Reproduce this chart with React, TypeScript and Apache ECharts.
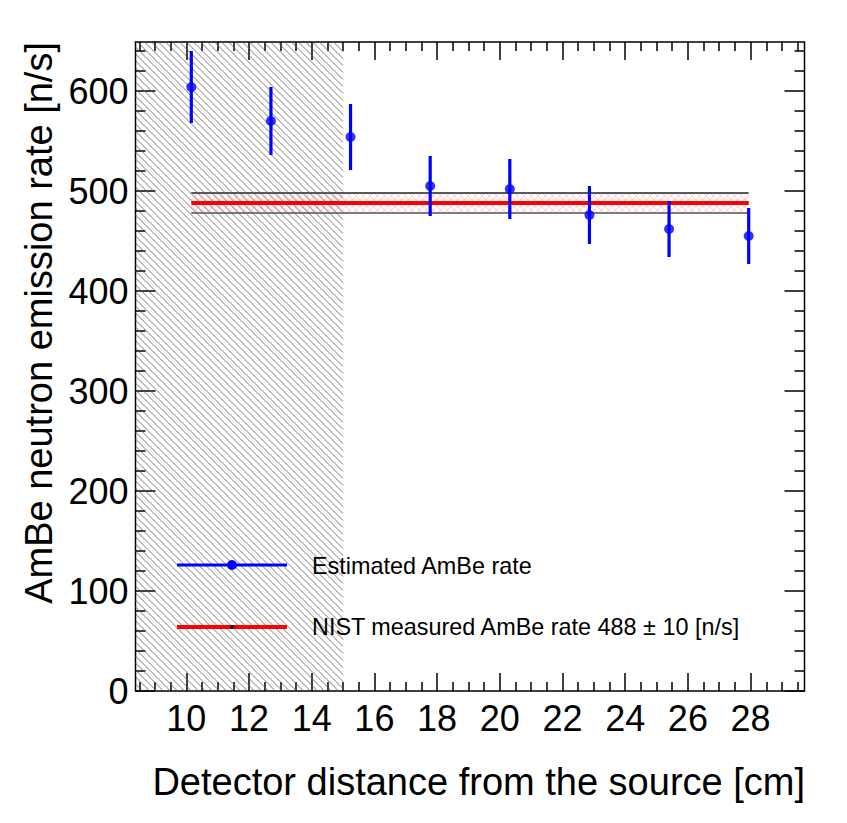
import React, { useEffect, useRef } from "react";
import * as echarts from "echarts";

// ---- data ----
const X_MIN = 8.38;
const X_MAX = 29.72;
const Y_MIN = 0;
const Y_MAX = 649;

const distances = [10.16, 12.7, 15.24, 17.78, 20.32, 22.86, 25.4, 27.94];
const rates = [604, 570, 554, 505, 502, 476, 462, 455];
const rateErrors = [36, 34, 33, 30, 30, 29, 28, 28];

const nistRate = 488;
const nistError = 10;
const nistRange = [10.16, 27.94];

const excludedRange = [X_MIN, 15];

const xMajorTicks = [10, 12, 14, 16, 18, 20, 22, 24, 26, 28];
const xMinorTicks = [
  8.5, 9, 9.5, 10.5, 11, 11.5, 12.5, 13, 13.5, 14.5, 15, 15.5, 16.5, 17, 17.5,
  18.5, 19, 19.5, 20.5, 21, 21.5, 22.5, 23, 23.5, 24.5, 25, 25.5, 26.5, 27,
  27.5, 28.5, 29, 29.5,
];
const yMajorTicks = [0, 100, 200, 300, 400, 500, 600];
const yMinorTicks = [
  20, 40, 60, 80, 120, 140, 160, 180, 220, 240, 260, 280, 320, 340, 360, 380,
  420, 440, 460, 480, 520, 540, 560, 580, 620, 640,
];

const xTitle = "Detector distance from the source [cm]";
const yTitle = "AmBe neutron emission rate [n/s]";
const legendEstimated = "Estimated AmBe rate";
const legendNist = "NIST measured AmBe rate 488 \u00b1 10 [n/s]";

const FONT = '"Liberation Sans", Arial, Helvetica, sans-serif';

// diagonal hatch segments clipped to a rectangle (pixel space)
function hatch(
  x0: number,
  y0: number,
  x1: number,
  y1: number,
  step: number,
  dir: number
) {
  const segs: any[] = [];
  if (dir > 0) {
    // x - y = c  ("\")
    for (let c = x0 - y1; c <= x1 - y0; c += step) {
      const xa = Math.max(x0, c + y0);
      const xb = Math.min(x1, c + y1);
      if (xb > xa) segs.push({ x1: xa, y1: xa - c, x2: xb, y2: xb - c });
    }
  } else {
    // x + y = c  ("/")
    for (let c = x0 + y0; c <= x1 + y1; c += step) {
      const xa = Math.max(x0, c - y1);
      const xb = Math.min(x1, c - y0);
      if (xb > xa) segs.push({ x1: xa, y1: c - xa, x2: xb, y2: c - xb });
    }
  }
  return segs;
}

function makeXAxis(position: string, ticks: number[], len: number, labels: boolean) {
  return {
    type: "value",
    position,
    min: X_MIN,
    max: X_MAX,
    axisLine: { show: false, onZero: false },
    splitLine: { show: false },
    axisTick: {
      show: true,
      inside: true,
      length: len,
      customValues: ticks,
      lineStyle: { color: "#000", width: 1.5 },
    },
    axisLabel: labels
      ? {
          show: true,
          customValues: xMajorTicks,
          fontFamily: FONT,
          fontSize: 36,
          color: "#000",
          margin: 9,
        }
      : { show: false },
  };
}

function makeYAxis(position: string, ticks: number[], len: number, labels: boolean) {
  return {
    type: "value",
    position,
    min: Y_MIN,
    max: Y_MAX,
    axisLine: { show: false, onZero: false },
    splitLine: { show: false },
    axisTick: {
      show: true,
      inside: true,
      length: len,
      customValues: ticks,
      lineStyle: { color: "#000", width: 1.5 },
    },
    axisLabel: labels
      ? {
          show: true,
          customValues: yMajorTicks,
          fontFamily: FONT,
          fontSize: 36,
          color: "#000",
          margin: 7,
        }
      : { show: false },
  };
}

export default function App() {
  const ref = useRef<HTMLDivElement>(null);

  useEffect(() => {
    if (!ref.current) return;
    const chart = echarts.init(ref.current, null, { renderer: "svg" });

    const errData = distances.map((d, i) => [
      d,
      rates[i] - rateErrors[i],
      rates[i] + rateErrors[i],
    ]);
    const pointData = distances.map((d, i) => [d, rates[i]]);

    const option: any = {
      animation: false,
      backgroundColor: "#fff",
      grid: {
        left: 135.5,
        top: 42,
        width: 669,
        height: 649,
        show: true,
        borderColor: "#000",
        borderWidth: 1.5,
        backgroundColor: "transparent",
        containLabel: false,
      },
      xAxis: [
        makeXAxis("bottom", xMajorTicks, 18, true),
        makeXAxis("bottom", xMinorTicks, 9, false),
        makeXAxis("top", xMajorTicks, 18, false),
        makeXAxis("top", xMinorTicks, 9, false),
      ],
      yAxis: [
        makeYAxis("left", yMajorTicks, 20, true),
        makeYAxis("left", yMinorTicks, 10, false),
        makeYAxis("right", yMajorTicks, 20, false),
        makeYAxis("right", yMinorTicks, 10, false),
      ],
      series: [
        {
          type: "custom",
          name: "band",
          z: 1,
          silent: true,
          data: [[nistRange[0], nistRange[1], nistRate - nistError, nistRate + nistError]],
          renderItem: (params: any, api: any) => {
            const tl = api.coord([api.value(0), api.value(3)]);
            const br = api.coord([api.value(1), api.value(2)]);
            const children: any[] = [];
            const s = { stroke: "rgba(255,90,90,0.4)", lineWidth: 0.8 };
            hatch(tl[0], tl[1], br[0], br[1], 7, 1).forEach((sh) =>
              children.push({ type: "line", shape: sh, style: s })
            );
            hatch(tl[0], tl[1], br[0], br[1], 7, -1).forEach((sh) =>
              children.push({ type: "line", shape: sh, style: s })
            );
            children.push({
              type: "line",
              shape: { x1: tl[0], y1: tl[1], x2: br[0], y2: tl[1] },
              style: { stroke: "#222", lineWidth: 1.4 },
            });
            children.push({
              type: "line",
              shape: { x1: tl[0], y1: br[1], x2: br[0], y2: br[1] },
              style: { stroke: "#555", lineWidth: 1.7 },
            });
            return { type: "group", children };
          },
        },
        {
          type: "custom",
          name: "excluded",
          z: 2,
          silent: true,
          data: [[excludedRange[0], excludedRange[1]]],
          renderItem: (params: any, api: any) => {
            const tl = api.coord([api.value(0), Y_MAX]);
            const br = api.coord([api.value(1), Y_MIN]);
            const children = hatch(tl[0], tl[1], br[0], br[1], 7, 1).map((sh) => ({
              type: "line",
              shape: sh,
              style: { stroke: "#555", lineWidth: 0.8 },
            }));
            return { type: "group", children };
          },
        },
        {
          type: "line",
          name: "nist",
          z: 3,
          data: [
            [nistRange[0], nistRate],
            [nistRange[1], nistRate],
          ],
          symbol: "none",
          lineStyle: { color: "#ff0000", width: 4 },
        },
        {
          type: "custom",
          name: "errors",
          z: 4,
          data: errData,
          renderItem: (params: any, api: any) => {
            const a = api.coord([api.value(0), api.value(1)]);
            const b = api.coord([api.value(0), api.value(2)]);
            return {
              type: "line",
              shape: { x1: a[0], y1: a[1], x2: b[0], y2: b[1] },
              style: { stroke: "#0000ff", lineWidth: 3.2 },
            };
          },
        },
        {
          type: "scatter",
          name: "points",
          z: 5,
          data: pointData,
          symbol: "circle",
          symbolSize: 10,
          itemStyle: { color: "#0000ff" },
        },
      ],
      graphic: [
        {
          type: "text",
          z: 100,
          x: 805,
          y: 782,
          style: {
            text: xTitle,
            fontFamily: FONT,
            fontSize: 38,
            fill: "#000",
            align: "right",
            verticalAlign: "middle",
          },
        },
        {
          type: "text",
          z: 100,
          x: 39,
          y: 42,
          rotation: Math.PI / 2,
          style: {
            text: yTitle,
            fontFamily: FONT,
            fontSize: 38,
            fill: "#000",
            align: "right",
            verticalAlign: "middle",
          },
        },
        {
          type: "line",
          z: 100,
          shape: { x1: 177, y1: 565, x2: 287, y2: 565 },
          style: { stroke: "#0000ff", lineWidth: 3 },
        },
        {
          type: "circle",
          z: 101,
          shape: { cx: 232, cy: 565, r: 5 },
          style: { fill: "#0000ff" },
        },
        {
          type: "text",
          z: 100,
          x: 312,
          y: 566,
          style: {
            text: legendEstimated,
            fontFamily: FONT,
            fontSize: 23.4,
            fill: "#000",
            align: "left",
            verticalAlign: "middle",
          },
        },
        {
          type: "line",
          z: 100,
          shape: { x1: 177, y1: 627, x2: 287, y2: 627 },
          style: { stroke: "#ff0000", lineWidth: 4 },
        },
        {
          type: "circle",
          z: 101,
          shape: { cx: 232, cy: 627, r: 2 },
          style: { fill: "#000" },
        },
        {
          type: "text",
          z: 100,
          x: 312,
          y: 627,
          style: {
            text: legendNist,
            fontFamily: FONT,
            fontSize: 23.4,
            fill: "#000",
            align: "left",
            verticalAlign: "middle",
          },
        },
      ],
    };

    chart.setOption(option);
    return () => {
      chart.dispose();
    };
  }, []);

  return (
    <div
      ref={ref}
      style={{ position: "fixed", left: 0, top: 0, width: 847, height: 823 }}
    />
  );
}
